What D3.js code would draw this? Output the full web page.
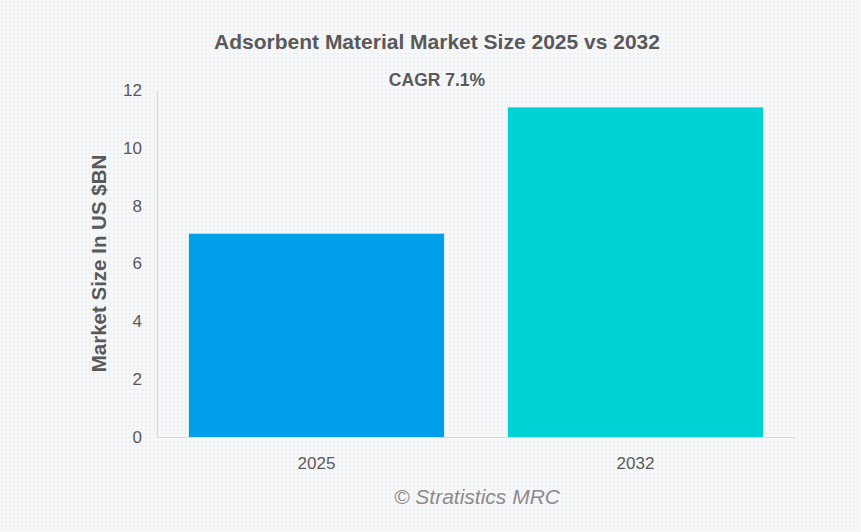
<!DOCTYPE html>
<html>
<head>
<meta charset="utf-8">
<script src="https://cdn.jsdelivr.net/npm/d3@7"></script>
<style>
  html, body { margin: 0; padding: 0; background: #f5f6f8; }
  svg { display: block; font-family: "Liberation Sans", Arial, sans-serif; }
</style>
</head>
<body>
<svg id="chart" width="861" height="532"></svg>
<script>
// chart data
const years = ['2025', '2032'];
const marketSize = [7.03, 11.4];
const barColors = ['#009fe9', '#00d2d6'];
const yTicks = [0, 2, 4, 6, 8, 10, 12];

const svg = d3.select('#chart');
const W = 861, H = 532;
const margin = {top: 90, right: 66, bottom: 95, left: 157};

// dotted background
const defs = svg.append('defs');
const pat = defs.append('pattern')
    .attr('id', 'dots')
    .attr('width', 4).attr('height', 4)
    .attr('patternUnits', 'userSpaceOnUse');
pat.append('rect').attr('width', 4).attr('height', 4).attr('fill', '#f6f7f9');
pat.append('rect').attr('x', 1).attr('y', 1).attr('width', 1.2).attr('height', 1.2).attr('fill', '#e2e4e8');
svg.append('rect').attr('width', W).attr('height', H).attr('fill', 'url(#dots)');

const x = d3.scaleBand()
    .domain(years)
    .range([margin.left, W - margin.right])
    .paddingInner(0.2)
    .paddingOuter(0.1);

const y = d3.scaleLinear()
    .domain([0, 12])
    .range([H - margin.bottom, margin.top]);

// bars
svg.selectAll('rect.bar')
    .data(years)
    .join('rect')
    .attr('class', 'bar')
    .attr('x', d => x(d))
    .attr('y', (d, i) => y(marketSize[i]))
    .attr('width', x.bandwidth())
    .attr('height', (d, i) => y(0) - y(marketSize[i]))
    .attr('fill', (d, i) => barColors[i]);

// y axis
const yAxis = svg.append('g')
    .attr('transform', `translate(${margin.left},0)`)
    .call(d3.axisLeft(y).tickValues(yTicks).tickSize(0).tickPadding(15));
yAxis.select('.domain').attr('stroke', '#d9d9d9').attr('stroke-width', 1.2);
yAxis.selectAll('text').attr('font-size', 17).attr('fill', '#595959')
    .attr('font-family', '"Liberation Sans", Arial, sans-serif');

// x axis
const xAxis = svg.append('g')
    .attr('transform', `translate(0,${y(0)})`)
    .call(d3.axisBottom(x).tickSize(0).tickPadding(20));
xAxis.select('.domain').attr('stroke', '#d9d9d9').attr('stroke-width', 1.2);
xAxis.selectAll('text').attr('font-size', 17).attr('fill', '#595959')
    .attr('font-family', '"Liberation Sans", Arial, sans-serif');

// titles
svg.append('text')
    .attr('x', 437).attr('y', 49)
    .attr('text-anchor', 'middle')
    .attr('font-size', 21).attr('font-weight', 'bold').attr('fill', '#595959')
    .text('Adsorbent Material Market Size 2025 vs 2032');

svg.append('text')
    .attr('x', 437).attr('y', 86)
    .attr('text-anchor', 'middle')
    .attr('font-size', 17.5).attr('font-weight', 'bold').attr('fill', '#595959')
    .text('CAGR 7.1%');

svg.append('text')
    .attr('transform', `translate(106,${(margin.top + y(0)) / 2}) rotate(-90)`)
    .attr('text-anchor', 'middle')
    .attr('font-size', 20.5).attr('font-weight', 'bold').attr('fill', '#595959')
    .text('Market Size In US $BN');

svg.append('text')
    .attr('x', 477).attr('y', 504)
    .attr('text-anchor', 'middle')
    .attr('font-size', 21).attr('font-style', 'italic').attr('fill', '#8c8c8c')
    .text('© Stratistics MRC');
</script>
</body>
</html>
